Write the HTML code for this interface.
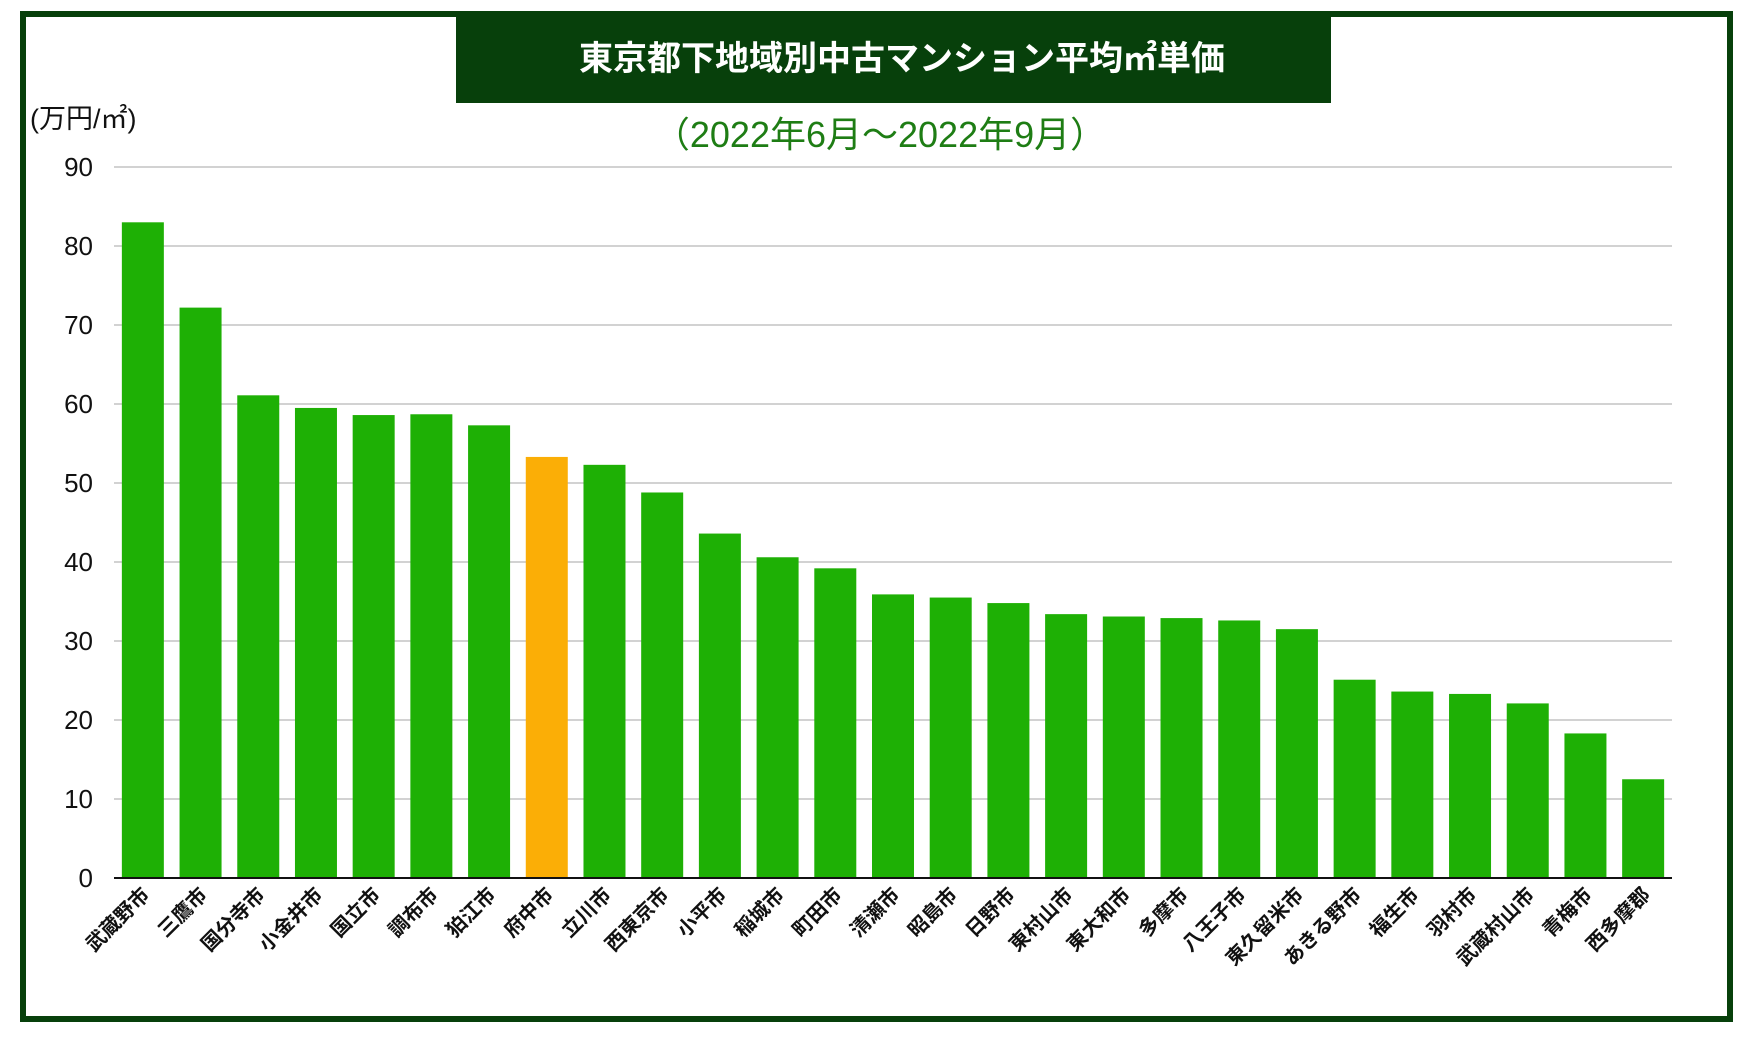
<!DOCTYPE html>
<html><head><meta charset="utf-8">
<style>
body{margin:0;background:#fff;}
svg{display:block;font-family:"Liberation Sans","Noto Sans CJK JP",sans-serif;}
</style></head>
<body>
<svg id="chart" width="1751" height="1037" viewBox="0 0 1751 1037">
<rect x="23" y="14" width="1707" height="1005" fill="#fff" stroke="#07400b" stroke-width="6"/>
<rect x="456" y="13" width="875" height="90" fill="#07400b"/>
<text x="902" y="70" text-anchor="middle" font-size="34" font-weight="bold" fill="#fff">東京都下地域別中古マンション平均㎡単価</text>
<text x="880" y="147" text-anchor="middle" font-size="36" fill="#1e7d14">（2022年6月～2022年9月）</text>
<text x="30" y="128" font-size="27" fill="#111">(万円/㎡)</text>
<g id="grid"></g>
<g id="bars"></g>
<g id="xlabels"></g>
</svg>
<script>
const categories=["武蔵野市","三鷹市","国分寺市","小金井市","国立市","調布市","狛江市","府中市","立川市","西東京市","小平市","稲城市","町田市","清瀬市","昭島市","日野市","東村山市","東大和市","多摩市","八王子市","東久留米市","あきる野市","福生市","羽村市","武蔵村山市","青梅市","西多摩郡"];
const values=[83.0,72.2,61.1,59.5,58.6,58.7,57.3,53.3,52.3,48.8,43.6,40.6,39.2,35.9,35.5,34.8,33.4,33.1,32.9,32.6,31.5,25.1,23.6,23.3,22.1,18.3,12.5];
const highlight=["府中市"];
const yTicks=[0,10,20,30,40,50,60,70,80,90];
const NS="http://www.w3.org/2000/svg";
const X0=114,X1=1672,Y0=878,Ytop=167,YMAX=90;
const band=(X1-X0)/categories.length,bw=42;
const y=v=>Y0-(v/YMAX)*(Y0-Ytop);
const xc=i=>X0+band*(i+0.5);
function mk(t,a,p){const e=document.createElementNS(NS,t);for(const k in a)e.setAttribute(k,a[k]);p.appendChild(e);return e;}
const g=document.getElementById('grid');
yTicks.forEach(t=>{
 if(t>0){const l=mk('line',{x1:X0,x2:X1,y1:y(t),y2:y(t),stroke:'#c4c4c4','stroke-width':1.5},g);
 
 }
 const tx=mk('text',{x:93,y:y(t)+9,'text-anchor':'end','font-size':26,fill:'#111'},g);
 tx.textContent=t;
 
 
});
const b=document.getElementById('bars');
values.forEach((v,i)=>{
 const hl=highlight.includes(categories[i]);
 const r=mk('rect',{x:xc(i)-bw/2,y:y(v),width:bw,height:Y0-y(v),fill:hl?'#fbae06':'#1eb005'},b);
 
 
});
const ax=mk('line',{x1:X0,x2:X1,y1:Y0,y2:Y0,stroke:'#111','stroke-width':2},b);


const xl=document.getElementById('xlabels');
categories.forEach((c,i)=>{
 const x=xc(i)+8,yy=Y0+18;
 const t=mk('text',{x:x,y:yy,'text-anchor':'end','font-size':20,'font-weight':'bold',fill:'#111',transform:`rotate(-45 ${x} ${yy})`},xl);
 t.textContent=c;
 
 
});
</script>
</body></html>
